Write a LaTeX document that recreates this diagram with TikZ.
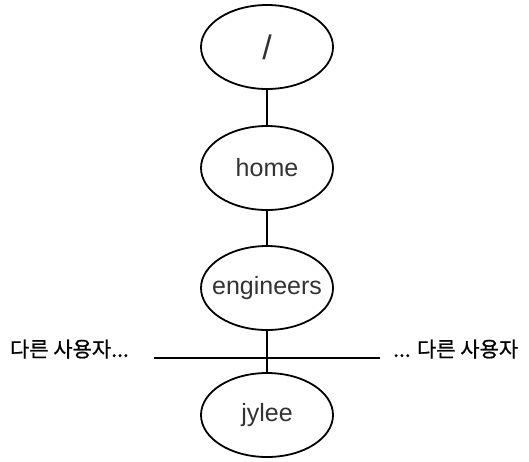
\documentclass[tikz,border=0pt]{standalone}
\usepackage{fontspec}
\setmainfont{Liberation Sans}
\newfontfamily\krfont[FakeBold=0.8]{Noto Sans CJK KR}
\usetikzlibrary{shapes.geometric}
\begin{document}
\begin{tikzpicture}[x=1pt,y=-1pt,
  dirnode/.style={ellipse,draw,line width=1.8pt,minimum width=132pt,minimum height=84pt,
    inner ysep=0pt,inner xsep=-12pt,font=\fontsize{25}{28}\selectfont,text=black!80},
  link/.style={line width=1.8pt},
  other/.style={font=\krfont\fontsize{21}{24}\selectfont,inner sep=0pt}]
\useasboundingbox (0,0) rectangle (529,461);
% directory nodes, top to bottom
\node[dirnode] (root) at (267,47) {\fontsize{34}{36}\selectfont/};
\node[dirnode] (home) at (267,168) {home};
\node[dirnode] (eng) at (267,288) {engineers};
\node[dirnode] (jylee) at (267,415) {jylee};
% ends of the crossbar for sibling users
\coordinate (hl) at (154,358);
\coordinate (hr) at (380,358);
\draw[link] (root) -- (home);
\draw[link] (home) -- (eng);
\draw[link] (eng) -- (jylee);
\draw[link] (hl) -- (hr);
\node[other,anchor=east] (leftusers) at (129,349) {다른 사용자...};
\node[other,anchor=west] (rightusers) at (393,349) {... 다른 사용자};
\end{tikzpicture}
\end{document}
